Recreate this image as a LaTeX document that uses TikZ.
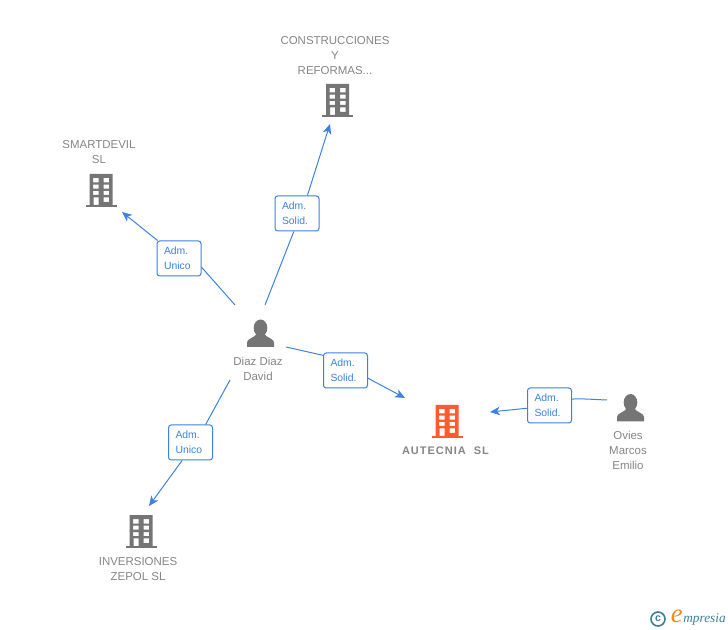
\documentclass[tikz,border=0pt]{standalone}
\usepackage{fontspec}
\usetikzlibrary{arrows.meta}
\setmainfont{Liberation Sans}
\newfontfamily\logofont{Liberation Serif}
\definecolor{linkblue}{HTML}{3C82E0}
\definecolor{icongrey}{HTML}{757575}
\definecolor{textgrey}{HTML}{858585}
\definecolor{hotorange}{HTML}{FF5B2E}
\definecolor{logoteal}{HTML}{3A7F96}
\definecolor{logoorange}{HTML}{F28A1E}
\tikzset{
  nametext/.style={text=textgrey,align=center,inner sep=0pt,font=\fontsize{8.6}{11.25}\selectfont},
  rolebox/.style={draw=linkblue,fill=white,rounded corners=2pt,line width=0.75pt,text=linkblue,align=left,
    minimum width=33pt,minimum height=26.25pt,inner sep=0pt,text width=22.5pt,font=\fontsize{7.8}{11.25}\selectfont},
  link/.style={draw=linkblue,line width=0.75pt},
}
\newcommand{\bldg}[3]{% centre x, top y, colour
\begin{scope}[shift={(#1,#2)}]
\fill[#3,even odd rule] (-11.5,0) rectangle (11.5,31)
  (-8,4) rectangle (-2.5,8.5) (2.5,4) rectangle (8,8.5)
  (-8,10.7) rectangle (-2.5,14.7) (2.5,10.7) rectangle (8,14.7)
  (-8,17) rectangle (-2.5,21) (2.5,17) rectangle (8,21)
  (-7.5,23.3) rectangle (-2.5,31) (2.5,23.3) rectangle (8,28);
\fill[#3] (-15.5,31) rectangle (15.5,33);
\end{scope}}
\newcommand{\persona}[3]{% centre x, top y, colour
\begin{scope}[shift={(#1,#2)}]
\fill[#3] (0,8.5) ellipse[x radius=6.8,y radius=8.5];
\fill[#3] (-13.5,27.5) -- (-13.5,23) .. controls (-13.5,19) and (-6,18.5) .. (-3.5,14)
  -- (3.5,14) .. controls (6,18.5) and (13.5,19) .. (13.5,23) -- (13.5,27.5) -- cycle;
\end{scope}}

\begin{document}
\begin{tikzpicture}[>={Stealth[length=7.5pt,width=6.5pt,inset=2.2pt]},x=0.75pt,y=-0.75pt]
\useasboundingbox (0,0) rectangle (728,630);

\bldg{337.5}{84}{icongrey}
\bldg{101}{174}{icongrey}
\bldg{141}{515}{icongrey}
\bldg{447}{405}{hotorange}
\persona{260.5}{319.5}{icongrey}
\persona{630.5}{394}{icongrey}

\node[nametext] (construcciones) at (335,56) {CONSTRUCCIONES\\Y\\REFORMAS...};
\node[nametext] (smartdevil) at (99,152.5) {SMARTDEVIL\\SL};
\node[nametext] (inversiones) at (138,569) {INVERSIONES\\ZEPOL SL};
\node[nametext,font=\fontsize{8.25}{11.25}\selectfont\bfseries\addfontfeature{LetterSpace=9}] (autecnia) at (445.5,451) {AUTECNIA\ \ SL};
\node[nametext] (diaz) at (258,368.5) {Diaz Diaz\\David};
\node[nametext] (ovies) at (628,450) {Ovies\\Marcos\\Emilio};

\node[rolebox] (rolecons) at (297,213.5) {Adm.\\Solid.};
\node[rolebox] (rolesmart) at (179,258.5) {Adm.\\Unico};
\node[rolebox] (roleinv) at (190.5,442.5) {Adm.\\Unico};
\node[rolebox] (roleaut) at (345.5,370.5) {Adm.\\Solid.};
\node[rolebox] (roleovies) at (549.5,405.5) {Adm.\\Solid.};

\coordinate (diazn) at (265,305);
\coordinate (diaznw) at (235,305);
\coordinate (diaze) at (286,347);
\coordinate (diazsw) at (230,380);
\coordinate (oviesw) at (607,400);
\coordinate (tocons) at (330,124);
\coordinate (tosmart) at (122,212);
\coordinate (toinv) at (149,506);
\coordinate (toaut) at (405,398);
\coordinate (toovies) at (490,412);

\draw[link] (diazn) -- (rolecons.-100);
\draw[link,->] (rolecons.60) -- (tocons);
\draw[link] (diaznw) -- (rolesmart.-21);
\draw[link,->] (rolesmart.140) -- (tosmart);
\draw[link] (diazsw) -- (roleinv.50);
\draw[link,->] (roleinv.-115) -- (toinv);
\draw[link] (diaze) -- (roleaut.146);
\draw[link,->] (roleaut.-19) -- (toaut);
\draw[link] (oviesw) to[out=178,in=2] (roleovies.16);
\draw[link,->] (roleovies.-173) -- (toovies);

\node[draw=logoteal,circle,line width=1.2pt,inner sep=0pt,minimum size=10.5pt,text=logoteal,font=\fontsize{8}{8}\selectfont\bfseries] (copyr) at (658,619) {c};
\node[anchor=base west,inner sep=0pt,text=logoteal,font=\logofont\fontsize{10}{10}\selectfont\itshape] (logoname) at (683,622.5) {mpresia};
\node[anchor=base east,inner sep=0pt,text=logoorange,font=\logofont\fontsize{20}{20}\selectfont\itshape] (logoe) at (logoname.base west) {e};
\end{tikzpicture}
\end{document}
